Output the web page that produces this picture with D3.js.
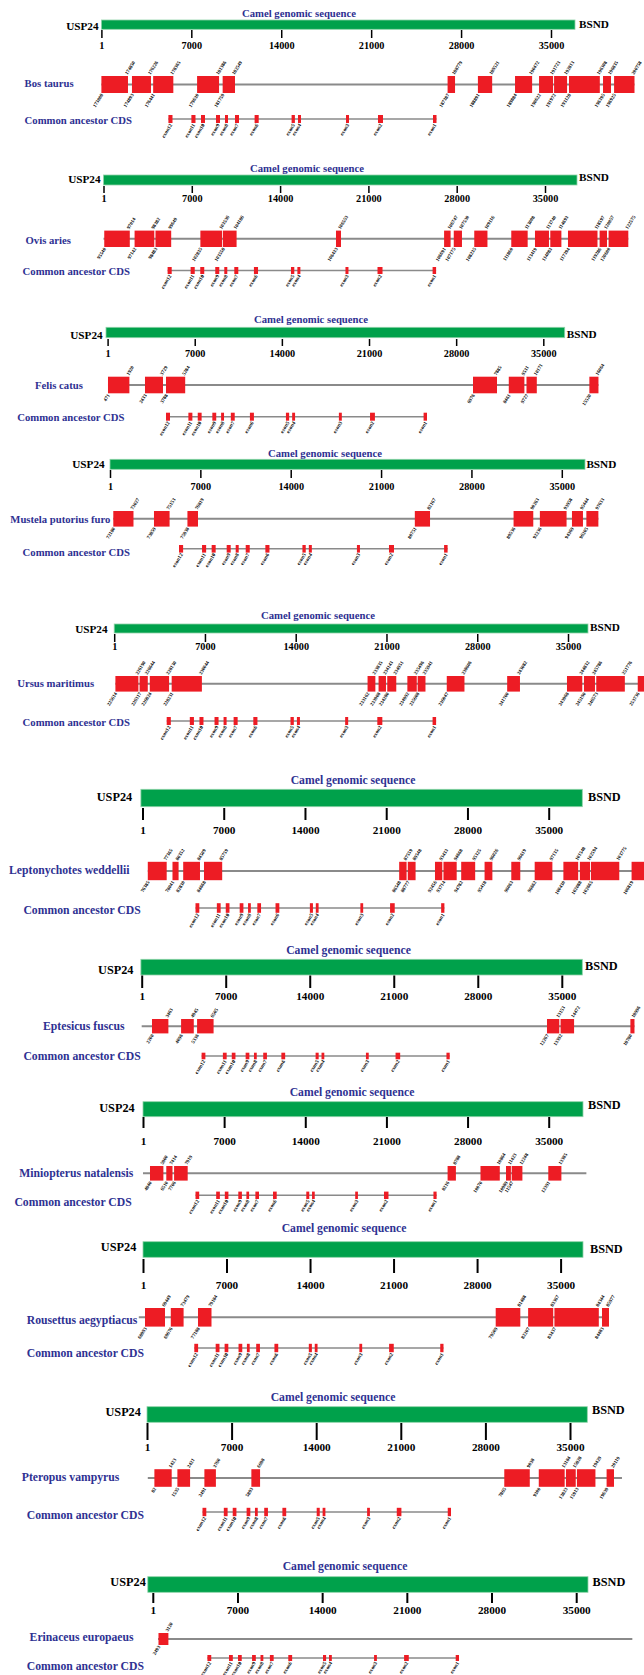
<!DOCTYPE html>
<html>
<head>
<meta charset="utf-8">
<script src="https://cdn.jsdelivr.net/npm/d3@7/dist/d3.min.js"></script>
<style>
body { margin: 0; background: #fff; }
text { font-family: "Liberation Serif", "Times New Roman", serif; font-weight: bold; }
</style>
</head>
<body>
<svg id="chart" width="644" height="1675"></svg>
<script>
// camel axis ticks
var tickValues = [1, 7000, 14000, 21000, 28000, 35000];

var speciesNames = ["Bos taurus", "Ovis aries", "Felis catus", "Mustela putorius furo",
  "Ursus maritimus", "Leptonychotes weddellii", "Eptesicus fuscus", "Miniopterus natalensis",
  "Rousettus aegyptiacus", "Pteropus vampyrus", "Erinaceus europaeus"];

// exons: [camel start, camel end, species start, species end]
var bosTaurus = [
  [1, 2070, 173008, 174850], [2380, 3860, 174893, 176226], [4030, 5600, 176441, 178365],
  [7450, 9160, 179630, 181386], [9440, 10400, 181759, 182549], [26950, 27530, 187387, 188779],
  [29310, 30420, 188891, 189521], [32200, 33530, 189884, 190472], [34070, 35160, 190622, 191723],
  [35240, 36250, 191972, 192813], [36400, 38800, 193128, 196308], [39050, 39670, 196395, 196835],
  [39910, 41500, 196925, 200758]
];
var ovisAries = [
  [60, 2085, 95540, 97014], [2465, 4027, 97142, 98382], [4122, 5367, 98483, 99649],
  [7681, 9409, 102835, 103536], [9473, 10551, 103558, 104186], [18431, 18827, 106433, 106553],
  [27001, 27516, 106691, 106747], [27768, 28418, 107175, 107530], [29392, 30438, 108235, 109116],
  [32326, 33626, 111860, 113008], [34205, 35315, 113419, 113740], [35419, 36299, 114083, 114693],
  [36822, 39161, 117394, 118597], [39328, 39915, 119286, 120057], [40042, 41604, 120600, 122575]
];
var felisCatus = [
  [32, 1751, 471, 1920], [3004, 4451, 2433, 3729], [4692, 6234, 3788, 5284],
  [29353, 31281, 6976, 7885], [32227, 33481, 8461, 9531], [33650, 34478, 9727, 10171],
  [38700, 39431, 15520, 16064]
];
var mustelaPutoriusFuro = [
  [256, 1820, 72180, 73027], [3408, 4617, 73859, 75153], [5999, 6817, 75938, 76819],
  [23614, 24792, 80751, 82167], [31264, 32790, 89536, 90263], [33301, 35369, 92236, 93958],
  [35787, 36639, 94369, 95444], [36903, 37833, 96205, 97633]
];
var ursusMaritimus = [
  [93, 1866, 225614, 226190], [1959, 2591, 226317, 226644], [2745, 4234, 226824, 228130],
  [4434, 6764, 228231, 230044], [19541, 20143, 233162, 233835], [20390, 20961, 233908, 234143],
  [21060, 21755, 234280, 234951], [22611, 23336, 234992, 235496], [23406, 24008, 235608, 235941],
  [25650, 27015, 236047, 238606], [30308, 31295, 241700, 243082], [34921, 36101, 243968, 244832],
  [36231, 37080, 245190, 245786], [37180, 39383, 246573, 251776], [40379, 41500, 253736, 254300]
];
var leptonychotesWeddellii = [
  [457, 2085, 76385, 77365], [2585, 3110, 78041, 80352], [3507, 4954, 82830, 84509],
  [5299, 6867, 84668, 85759], [22117, 22755, 86548, 87559], [22858, 23530, 88777, 89548],
  [25202, 25831, 92456, 93433], [25934, 27072, 93714, 94668], [27460, 28665, 94782, 95325],
  [29475, 30147, 95418, 96026], [31776, 32551, 96063, 96619], [33792, 35317, 96662, 97135],
  [36265, 37540, 100430, 101548], [37686, 38565, 102088, 102594], [38643, 41081, 102665, 103775],
  [42141, 43500, 106819, 107500]
];
var eptesicusFuscus = [
  [858, 2224, 2200, 3463], [3282, 4340, 4096, 4945], [4615, 5990, 5336, 6505],
  [33766, 34790, 12267, 13153], [34899, 36023, 13392, 14472], [40714, 41055, 18780, 18996]
];
var miniopterusNatalensis = [
  [604, 1760, 4840, 5900], [2010, 2545, 6510, 7414], [2683, 3856, 7706, 7919],
  [26278, 26994, 8216, 8788], [29116, 30781, 10070, 10864], [31316, 31739, 10989, 11423],
  [31808, 32731, 11547, 12248], [34965, 36095, 12391, 13385]
];
var rousettusAegyptiacus = [
  [168, 1844, 68993, 69449], [2330, 3403, 69676, 73479], [4610, 5741, 77188, 79184],
  [29561, 31623, 79509, 81488], [32278, 34382, 82207, 83367], [34482, 38203, 83437, 84344],
  [38469, 39055, 84483, 85977]
];
var pteropusVampyrus = [
  [612, 2044, 82, 1423], [2515, 3566, 1535, 2421], [4749, 5701, 2491, 3760],
  [8636, 9356, 5893, 6698], [29562, 31672, 7865, 9038], [32416, 34559, 9300, 13184],
  [34664, 35475, 13823, 15828], [35573, 37104, 15913, 19429], [38028, 38640, 19639, 20119]
];
var erinaceusEuropaeus = [
  [471, 1290, 2493, 3120]
];
var speciesExons = [bosTaurus, ovisAries, felisCatus, mustelaPutoriusFuro, ursusMaritimus,
  leptonychotesWeddellii, eptesicusFuscus, miniopterusNatalensis, rousettusAegyptiacus,
  pteropusVampyrus, erinaceusEuropaeus];

// gene span drawn as the grey line, camel coords
var speciesSpan = [[1, 41500], [1, 41604], [32, 39431], [256, 37833], [93, 41500], [457, 43500],
  [0, 41055], [0, 38250], [-350, 39055], [66, 39300], [430, 39640]];

// common ancestor CDS
var cdsNames = ["exon12", "exon11", "exon10", "exon9", "exon8", "exon7", "exon6",
  "exon5", "exon4", "exon3", "exon2", "exon1"];
var cdsExons = [[5216, 5535], [7006, 7325], [7754, 8065], [8921, 9233], [9622, 9856],
  [10400, 10712], [11927, 12246], [14807, 15064], [15305, 15538], [19042, 19276],
  [21533, 21922], [25815, 26088]];

// layout of each panel (pixels)
var panels = [
  {tX:299, tY:13, uX:98.6, uY:26, bX:579, bY:24, bL:101.4, bR:575, bT:20, bB:29.3, x0:101.4, x35:551, kT:30, kL:8, kY:45.7, fs:10.7, sX:24.6, sLY:83.3, sY:84.5, sH:8.5, cLX:24.6, cLY:120, cX:[168.4, 436.5], cY:119, cH:4},
  {tX:307, tY:168.3, uX:100.6, uY:179.3, bX:579, bY:177.3, bL:103.5, bR:577, bT:175, bB:185, x0:103.5, x35:545, kT:186, kL:7, kY:199, fs:10.7, sX:25.5, sLY:239.5, sY:238.8, sH:8.2, cLX:22.6, cLY:271, cX:[167.6, 436.1], cY:270.5, cH:3.5},
  {tX:311, tY:319.3, uX:102.7, uY:335, bX:566.7, bY:334, bL:106, bR:564.7, bT:327.3, bB:337.7, x0:107.6, x35:543.3, kT:339, kL:7, kY:354, fs:10.7, sX:35, sLY:385, sY:385, sH:8.3, cLX:17.2, cLY:417, cX:[166, 427], cY:416.7, cH:4},
  {tX:325, tY:453, uX:104.7, uY:464, bX:586.4, bY:464, bL:110, bR:585, bT:459.3, bB:469.3, x0:110, x35:561.8, kT:470, kL:8, kY:486.7, fs:10.7, sX:10.3, sLY:519, sY:518.8, sH:7.8, cLX:22.6, cLY:551.5, cX:[179, 447.6], cY:548.8, cH:3.8},
  {tX:318, tY:615, uX:107.6, uY:629, bX:590, bY:627.3, bL:114.2, bR:588, bT:624, bB:633, x0:114.2, x35:568, kT:634, kL:8, kY:646.7, fs:10.7, sX:17.2, sLY:683.3, sY:683.8, sH:7.8, cLX:22.6, cLY:721.7, cX:[166.7, 436.1], cY:721, cH:4},
  {tX:353, tY:780.7, uX:132.2, uY:797, bX:588, bY:797, bL:140.9, bR:582.3, bT:789.3, bB:806.7, x0:142.5, x35:548.7, kT:808, kL:12, kY:830, fs:11.7, sX:9, sLY:870, sY:871, sH:9.2, cLX:23.4, cLY:910, cX:[195.5, 444.4], cY:908, cH:4.8},
  {tX:348.5, tY:950, uX:133.5, uY:970, bX:585, bY:966, bL:140.9, bR:582.3, bT:959.3, bB:975, x0:141.7, x35:561.8, kT:975.5, kL:12.5, kY:996, fs:11.7, sX:43, sLY:1026, sY:1026.2, sH:7.2, cLX:23.4, cLY:1056, cX:[201.6, 449.7], cY:1056, cH:3.3},
  {tX:352, tY:1092.3, uX:134.7, uY:1108, bX:588, bY:1105, bL:143, bR:583, bT:1101.7, bB:1116.7, x0:143, x35:548.7, kT:1117, kL:11, kY:1141, fs:11.7, sX:19.3, sLY:1173, sY:1173.3, sH:7.3, cLX:14.4, cLY:1202.7, cX:[195.5, 436.6], cY:1195.3, cH:3.7},
  {tX:344, tY:1228.3, uX:136.3, uY:1247, bX:590, bY:1249, bL:143, bR:583, bT:1241.7, bB:1257.3, x0:143, x35:560.6, kT:1259, kL:14, kY:1285.7, fs:11.7, sX:26.7, sLY:1320.7, sY:1317.3, sH:9.3, cLX:26.7, cLY:1353, cX:[194.3, 443.5], cY:1348, cH:4.2},
  {tX:333, tY:1397.3, uX:140.9, uY:1412, bX:592, bY:1410, bL:147, bR:587.3, bT:1406.7, bB:1422.3, x0:147, x35:570, kT:1423, kL:17, kY:1447.3, fs:11.7, sX:21.8, sLY:1477.3, sY:1478, sH:8.8, cLX:26.7, cLY:1515, cX:[202.5, 451], cY:1512, cH:4.2},
  {tX:345, tY:1566.7, uX:145.8, uY:1582, bX:592.6, bY:1582, bL:147.8, bR:588, bT:1576.7, bB:1592.3, x0:152.8, x35:576.2, kT:1593, kL:10, kY:1610.7, fs:11.7, sX:29.6, sLY:1637.3, sY:1639, sH:6, cLX:26.7, cLY:1666.7, cX:[207.4, 459], cY:1658, cH:3}
];

var blue = "#2e3192", green = "#00a14b", red = "#ed1c24", grey = "#8a8a8a";
var svg = d3.select("#chart");

panels.forEach(function(p, i) {
  var g = svg.append("g");
  var x = d3.scaleLinear().domain([1, 35000]).range([p.x0, p.x35]);

  g.append("text").attr("x", p.tX).attr("y", p.tY)
    .attr("text-anchor", "middle").attr("dominant-baseline", "central")
    .attr("fill", blue).style("font-size", p.fs + "px")
    .text("Camel genomic sequence");

  g.append("rect").attr("x", p.bL).attr("y", p.bT)
    .attr("width", p.bR - p.bL).attr("height", p.bB - p.bT)
    .attr("fill", green).attr("stroke", "#8fd3a8").attr("stroke-width", 0.8);

  g.append("text").attr("x", p.uX).attr("y", p.uY)
    .attr("text-anchor", "end").attr("dominant-baseline", "central")
    .style("font-size", (p.fs * 1.05) + "px").text("USP24");
  g.append("text").attr("x", p.bX).attr("y", p.bY)
    .attr("dominant-baseline", "central")
    .style("font-size", (p.fs * 1.05) + "px").text("BSND");

  var tfs = p.fs * 0.96;
  var axis = d3.axisBottom(x).tickValues(tickValues).tickFormat(d3.format("d"))
    .tickSize(p.kL).tickPadding(p.kY - p.kT - p.kL - 0.38 * tfs);
  var ax = g.append("g").attr("transform", "translate(0," + p.kT + ")").call(axis);
  ax.select(".domain").remove();
  ax.selectAll(".tick line").attr("stroke", "#000").attr("stroke-width", i < 5 ? 1.5 : 2);
  ax.selectAll(".tick text").attr("fill", "#000").style("font-size", tfs + "px");

  // species row
  var ex = speciesExons[i], span = speciesSpan[i];
  g.append("text").attr("x", p.sX).attr("y", p.sLY).attr("dominant-baseline", "central")
    .attr("fill", blue).style("font-size", p.fs + "px").text(speciesNames[i]);
  g.append("line").attr("x1", x(span[0])).attr("x2", x(span[1]))
    .attr("y1", p.sY).attr("y2", p.sY).attr("stroke", grey).attr("stroke-width", 2);
  g.selectAll(".exon").data(ex).enter().append("rect")
    .attr("x", function(d) { return x(d[0]); })
    .attr("width", function(d) { return x(d[1]) - x(d[0]); })
    .attr("y", p.sY - p.sH).attr("height", 2 * p.sH)
    .attr("fill", red);
  g.selectAll(".hi").data(ex).enter().append("text")
    .attr("transform", function(d) { return "translate(" + (x(d[1]) - 0.5) + "," + (p.sY - p.sH - 1) + ") rotate(-58)"; })
    .style("font-size", "5px").text(function(d) { return d[3]; });
  g.selectAll(".lo").data(ex).enter().append("text")
    .attr("text-anchor", "end")
    .attr("transform", function(d) { return "translate(" + (x(d[0]) + 2) + "," + (p.sY + p.sH + 2) + ") rotate(-58)"; })
    .style("font-size", "5px").text(function(d) { return d[2]; });

  // common ancestor CDS row
  var cx = d3.scaleLinear().domain([cdsExons[0][0], cdsExons[cdsExons.length - 1][1]]).range(p.cX);
  g.append("text").attr("x", p.cLX).attr("y", p.cLY).attr("dominant-baseline", "central")
    .attr("fill", blue).style("font-size", p.fs + "px").text("Common ancestor CDS");
  g.append("line").attr("x1", cx.range()[0]).attr("x2", cx.range()[1])
    .attr("y1", p.cY).attr("y2", p.cY).attr("stroke", grey).attr("stroke-width", 1.6);
  g.selectAll(".cds").data(cdsExons).enter().append("rect")
    .attr("x", function(d) { return cx(d[0]); })
    .attr("width", function(d) { return Math.max(2.5, cx(d[1]) - cx(d[0])); })
    .attr("y", p.cY - p.cH).attr("height", 2 * p.cH)
    .attr("fill", red);
  g.selectAll(".cdsl").data(cdsExons).enter().append("text")
    .attr("text-anchor", "end")
    .attr("transform", function(d) { return "translate(" + (cx((d[0] + d[1]) / 2) + 2) + "," + (p.cY + p.cH + 2) + ") rotate(-58)"; })
    .style("font-size", "5.2px").text(function(d, j) { return cdsNames[j]; });
});
</script>
</body>
</html>
